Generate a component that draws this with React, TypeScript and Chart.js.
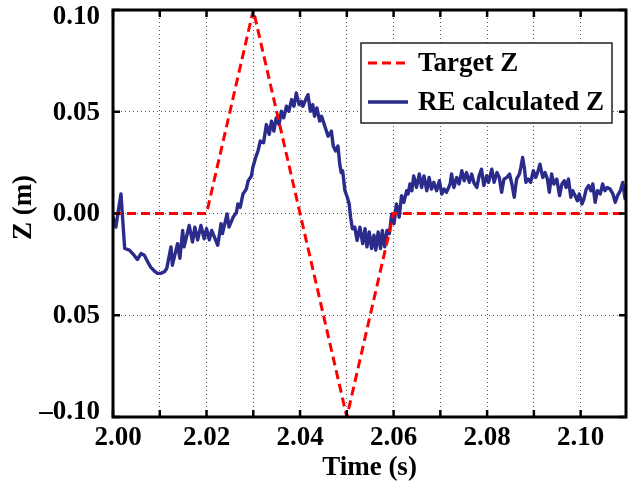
import React, { useEffect, useRef } from 'react';
import { Chart, registerables } from 'chart.js';

Chart.register(...registerables);

// Target trajectory (triangle pulse between 2.02 s and 2.06 s)
const targetTime = [2.0, 2.02, 2.03, 2.05, 2.06, 2.1097];
const targetZ = [0, 0, 0.1, -0.1, 0, 0];

// Z reconstructed by the RE estimator
const reTime = [
  2.0000, 2.0006, 2.0017, 2.0025, 2.0035, 2.0045, 2.0052, 2.0060, 2.0067, 2.0074,
  2.0081, 2.0090, 2.0095, 2.0102, 2.0110, 2.0115, 2.0124, 2.0127, 2.0138, 2.0143,
  2.0149, 2.0152, 2.0163, 2.0170, 2.0175, 2.0181, 2.0188, 2.0195, 2.0200, 2.0206,
  2.0211, 2.0224, 2.0231, 2.0234, 2.0244, 2.0248, 2.0257, 2.0264, 2.0267, 2.0272,
  2.0278, 2.0285, 2.0289, 2.0296, 2.0299, 2.0305, 2.0310, 2.0315, 2.0322, 2.0328,
  2.0334, 2.0339, 2.0344, 2.0349, 2.0355, 2.0360, 2.0365, 2.0371, 2.0376, 2.0382,
  2.0387, 2.0392, 2.0398, 2.0403, 2.0406, 2.0412, 2.0417, 2.0422, 2.0427, 2.0431,
  2.0436, 2.0442, 2.0446, 2.0453, 2.0460, 2.0467, 2.0471, 2.0476, 2.0481, 2.0485,
  2.0488, 2.0491, 2.0496, 2.0501, 2.0505, 2.0508, 2.0512, 2.0517, 2.0522, 2.0528,
  2.0534, 2.0539, 2.0543, 2.0548, 2.0553, 2.0558, 2.0562, 2.0567, 2.0572, 2.0576,
  2.0581, 2.0586, 2.0591, 2.0596, 2.0601, 2.0606, 2.0612, 2.0617, 2.0622, 2.0628,
  2.0631, 2.0635, 2.0639, 2.0643, 2.0649, 2.0655, 2.0660, 2.0665, 2.0671, 2.0676,
  2.0681, 2.0686, 2.0692, 2.0698, 2.0703, 2.0708, 2.0713, 2.0721, 2.0724, 2.0729,
  2.0735, 2.0740, 2.0746, 2.0751, 2.0756, 2.0762, 2.0767, 2.0772, 2.0778, 2.0783,
  2.0788, 2.0793, 2.0799, 2.0803, 2.0810, 2.0815, 2.0821, 2.0826, 2.0831, 2.0836,
  2.0842, 2.0848, 2.0853, 2.0858, 2.0863, 2.0869, 2.0872, 2.0876, 2.0880, 2.0883,
  2.0888, 2.0893, 2.0899, 2.0904, 2.0908, 2.0913, 2.0919, 2.0924, 2.0929, 2.0933,
  2.0938, 2.0943, 2.0949, 2.0955, 2.0960, 2.0965, 2.0969, 2.0974, 2.0979, 2.0983,
  2.0988, 2.0993, 2.0997, 2.1003, 2.1007, 2.1012, 2.1017, 2.1022, 2.1026, 2.1031,
  2.1036, 2.1042, 2.1047, 2.1052, 2.1057, 2.1063, 2.1069, 2.1074, 2.1079, 2.1085,
  2.1090, 2.1095,
];
const reZ = [
  -0.0018, -0.0067, 0.0096, -0.0172, -0.0180, -0.0205, -0.0226, -0.0197, -0.0205, -0.0237,
  -0.0265, -0.0286, -0.0294, -0.0294, -0.0286, -0.0270, -0.0164, -0.0254, -0.0148, -0.0220,
  -0.0083, -0.0164, -0.0059, -0.0140, -0.0067, -0.0130, -0.0059, -0.0124, -0.0075, -0.0130,
  -0.0083, -0.0156, -0.0050, -0.0099, -0.0002, -0.0067, -0.0018, 0.0006, 0.0047, 0.0030,
  0.0096, 0.0120, 0.0160, 0.0185, 0.0226, 0.0275, 0.0307, 0.0356, 0.0348, 0.0437,
  0.0389, 0.0454, 0.0405, 0.0470, 0.0437, 0.0502, 0.0470, 0.0527, 0.0502, 0.0560,
  0.0527, 0.0592, 0.0535, 0.0551, 0.0527, 0.0560, 0.0584, 0.0502, 0.0535, 0.0478,
  0.0519, 0.0454, 0.0478, 0.0429, 0.0380, 0.0405, 0.0332, 0.0307, 0.0332, 0.0240,
  0.0201, 0.0210, 0.0112, 0.0080, 0.0047, -0.0018, -0.0075, -0.0067, -0.0132, -0.0067,
  -0.0148, -0.0075, -0.0164, -0.0091, -0.0172, -0.0107, -0.0180, -0.0091, -0.0172, -0.0083,
  -0.0164, -0.0083, -0.0099, -0.0002, -0.0050, 0.0047, -0.0018, 0.0088, 0.0055, 0.0112,
  0.0096, 0.0145, 0.0112, 0.0185, 0.0128, 0.0194, 0.0128, 0.0185, 0.0112, 0.0177,
  0.0120, 0.0153, 0.0112, 0.0161, 0.0096, 0.0120, 0.0104, 0.0145, 0.0194, 0.0128,
  0.0177, 0.0145, 0.0210, 0.0161, 0.0201, 0.0153, 0.0194, 0.0150, 0.0128, 0.0185,
  0.0218, 0.0137, 0.0185, 0.0153, 0.0218, 0.0153, 0.0201, 0.0177, 0.0104, 0.0169,
  0.0177, 0.0194, 0.0145, 0.0080, 0.0169, 0.0194, 0.0226, 0.0275, 0.0218, 0.0153,
  0.0169, 0.0153, 0.0210, 0.0177, 0.0201, 0.0242, 0.0177, 0.0201, 0.0169, 0.0104,
  0.0194, 0.0145, 0.0169, 0.0088, 0.0145, 0.0161, 0.0128, 0.0169, 0.0080, 0.0112,
  0.0088, 0.0063, 0.0096, 0.0047, 0.0072, 0.0120, 0.0137, 0.0112, 0.0145, 0.0055,
  0.0112, 0.0096, 0.0145, 0.0112, 0.0128, 0.0120, 0.0096, 0.0055, 0.0088, 0.0112,
  0.0153, 0.0072,
];

// Axis ticks and their labels
const xTickValues = [2.0, 2.01, 2.02, 2.03, 2.04, 2.05, 2.06, 2.07, 2.08, 2.09, 2.1];
const xTickLabels = ['2.00', '', '2.02', '', '2.04', '', '2.06', '', '2.08', '', '2.10'];
const yTickValues = [-0.1, -0.05, 0, 0.05, 0.1];
const yTickLabels = ['\u20130.10', '0.05', '0.00', '0.05', '0.10'];
const xAxisTitle = 'Time (s)';
const yAxisTitle = 'Z (m)';

const seriesNames = ['Target Z', 'RE calculated Z'];
const X_MIN = 2.0;
const X_MAX = 2.1097;
const Y_MIN = -0.1;
const Y_MAX = 0.1;

const FONT_FAMILY = '"Liberation Serif", "Times New Roman", serif';
const BOLD_FONT = `bold 27px ${FONT_FAMILY}`;
const RED = '#ff0000';
const NAVY = '#2b2b8b';

// Box around the plot area, inward tick marks on all four sides, tick labels
// (edge labels are nudged inwards so they stay beside the frame) and the Z title
const frameTicks = {
  id: 'frameTicks',
  afterDatasetsDraw(chart: any) {
    const { ctx, chartArea: a, scales } = chart;
    const len = 7;
    ctx.save();
    ctx.strokeStyle = '#000';
    ctx.lineWidth = 2.5;
    ctx.beginPath();
    for (const v of xTickValues) {
      const px = scales.x.getPixelForValue(v);
      ctx.moveTo(px, a.bottom);
      ctx.lineTo(px, a.bottom - len);
      ctx.moveTo(px, a.top);
      ctx.lineTo(px, a.top + len);
    }
    for (const v of yTickValues) {
      const py = scales.y.getPixelForValue(v);
      ctx.moveTo(a.left, py);
      ctx.lineTo(a.left + len, py);
      ctx.moveTo(a.right, py);
      ctx.lineTo(a.right - len, py);
    }
    ctx.stroke();
    ctx.lineWidth = 3;
    ctx.strokeRect(a.left, a.top, a.right - a.left, a.bottom - a.top);

    ctx.fillStyle = '#000';
    ctx.font = BOLD_FONT;
    ctx.textBaseline = 'middle';

    ctx.textAlign = 'center';
    xTickValues.forEach((v, i) => {
      const text = xTickLabels[i];
      if (!text) return;
      const px = Math.max(scales.x.getPixelForValue(v), a.left + 5);
      ctx.fillText(text, px, a.bottom + 21);
    });

    ctx.textAlign = 'right';
    yTickValues.forEach((v, i) => {
      const py = Math.min(Math.max(scales.y.getPixelForValue(v) + 1, a.top + 7), a.bottom - 5);
      ctx.fillText(yTickLabels[i], a.left - 13, py);
    });

    ctx.translate(24, (a.top + a.bottom) / 2 - 6);
    ctx.rotate(-Math.PI / 2);
    ctx.textAlign = 'center';
    ctx.fillText(yAxisTitle, 0, 0);
    ctx.restore();
  },
};

// Boxed legend in the upper right of the plot area
const boxedLegend = {
  id: 'boxedLegend',
  afterDraw(chart: any) {
    const { ctx, chartArea: a } = chart;
    const w = 251;
    const h = 80;
    const x0 = a.right - 14 - w;
    const y0 = a.top + 33;
    ctx.save();
    ctx.fillStyle = '#fff';
    ctx.fillRect(x0, y0, w, h);
    ctx.strokeStyle = '#222';
    ctx.lineWidth = 1.5;
    ctx.strokeRect(x0, y0, w, h);
    ctx.font = BOLD_FONT;
    ctx.textBaseline = 'middle';
    ctx.textAlign = 'left';
    chart.data.datasets.forEach((ds: any, i: number) => {
      const cy = y0 + 20 + i * 39;
      ctx.strokeStyle = ds.borderColor;
      ctx.lineWidth = ds.borderWidth;
      ctx.setLineDash(ds.borderDash || []);
      ctx.beginPath();
      ctx.moveTo(x0 + 7, cy);
      ctx.lineTo(x0 + 47, cy);
      ctx.stroke();
      ctx.setLineDash([]);
      ctx.fillStyle = '#000';
      ctx.fillText(ds.label, x0 + 57, cy + 1);
    });
    ctx.restore();
  },
};

export default function App() {
  const canvasRef = useRef<HTMLCanvasElement | null>(null);

  useEffect(() => {
    document.body.style.margin = '0';
    const canvas = canvasRef.current;
    if (!canvas) return;

    const titleFont = { family: FONT_FAMILY, size: 27, weight: 'bold' as const };
    const gridStyle = { color: 'rgba(0,0,0,0.65)', lineWidth: 1, drawTicks: false };
    const borderStyle = { display: false, dash: [1, 3] };

    const chart = new Chart(canvas, {
      type: 'line',
      data: {
        datasets: [
          {
            label: seriesNames[0],
            data: targetTime.map((t, i) => ({ x: t, y: targetZ[i] })),
            borderColor: RED,
            borderWidth: 3,
            borderDash: [9, 5],
            pointRadius: 0,
            tension: 0,
            fill: false,
          },
          {
            label: seriesNames[1],
            data: reTime.map((t, i) => ({ x: t, y: reZ[i] })),
            borderColor: NAVY,
            borderWidth: 3.4,
            borderJoinStyle: 'round',
            borderCapStyle: 'round',
            pointRadius: 0,
            tension: 0,
            fill: false,
          },
        ],
      },
      options: {
        animation: false,
        responsive: false,
        events: [],
        layout: { padding: { top: 10, right: 3, left: 0, bottom: 0 } },
        plugins: {
          legend: { display: false },
          tooltip: { enabled: false },
        },
        scales: {
          x: {
            type: 'linear',
            min: X_MIN,
            max: X_MAX,
            grid: gridStyle,
            border: borderStyle,
            afterBuildTicks: (scale: any) => {
              scale.ticks = xTickValues.map((v) => ({ value: v }));
            },
            afterFit: (scale: any) => {
              scale.height = 73;
              scale.paddingLeft = 0;
              scale.paddingRight = 0;
            },
            ticks: { display: false },
            title: {
              display: true,
              text: xAxisTitle,
              color: '#000',
              font: titleFont,
              padding: { top: 0, bottom: 6 },
            },
          },
          y: {
            type: 'linear',
            min: Y_MIN,
            max: Y_MAX,
            grid: gridStyle,
            border: borderStyle,
            afterBuildTicks: (scale: any) => {
              scale.ticks = yTickValues.map((v) => ({ value: v }));
            },
            afterFit: (scale: any) => {
              scale.width = 113;
              scale.paddingTop = 0;
              scale.paddingBottom = 0;
            },
            ticks: { display: false },
          },
        },
      },
      plugins: [frameTicks, boxedLegend],
    } as any);

    return () => chart.destroy();
  }, []);

  return (
    <div style={{ width: 629, height: 490, background: '#fff' }}>
      <canvas ref={canvasRef} width={629} height={490} style={{ display: 'block' }} />
    </div>
  );
}
